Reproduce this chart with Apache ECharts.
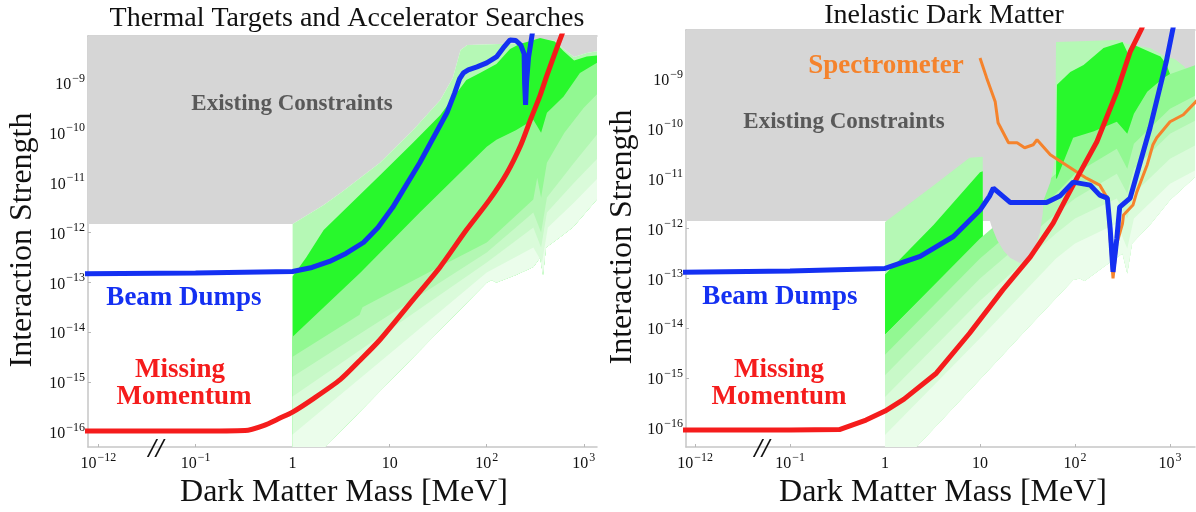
<!DOCTYPE html>
<html><head><meta charset="utf-8">
<script src="https://cdn.jsdelivr.net/npm/echarts@6/dist/echarts.min.js"></script>
<style>html,body{margin:0;padding:0;background:#fff}#c{width:1196px;height:512px}</style>
</head><body><div id="c"></div>
<script>
// x positions: log10(mass/MeV) for mass >= 0.1 MeV; the 10^-12 MeV tick sits at -2 (broken axis)
const xTickValues = [-2, -1, 0, 1, 2, 3];
const xTickBase = ['10', '10', '1', '10', '10', '10'];
const xTickExp = ['\u221212', '\u22121', '', '', '2', '3'];
// y values: log10(interaction strength)
const yTickValues = [-16, -15, -14, -13, -12, -11, -10, -9];

// ---------- Left panel: Thermal Targets and Accelerator Searches ----------
const leftBeamDump = [[-2.2,-12.83],[-1,-12.81],[0,-12.78],[0.2,-12.7],[0.38,-12.58],[0.55,-12.42],[0.73,-12.2],[0.88,-11.9],[1.03,-11.5],[1.17,-11.05],[1.31,-10.6],[1.45,-10.1],[1.59,-9.6],[1.67,-9.2],[1.72,-8.92],[1.76,-8.8],[1.81,-8.74],[1.9,-8.68],[2.0,-8.6],[2.1,-8.48],[2.17,-8.3],[2.24,-8.14],[2.3,-8.15],[2.35,-8.24],[2.385,-8.42],[2.39,-9.0],[2.40,-9.44],[2.41,-9.0],[2.43,-8.5],[2.47,-8.0],[2.5,-7.8]];
const leftMissingMomentum = [[-2.2,-15.98],[-1,-15.98],[-0.49,-15.97],[-0.3,-15.87],[-0.13,-15.72],[0,-15.6],[0.2,-15.35],[0.49,-14.95],[0.7,-14.55],[0.9,-14.15],[1.24,-13.35],[1.52,-12.69],[1.79,-11.95],[2.03,-11.34],[2.21,-10.8],[2.35,-10.25],[2.45,-9.74],[2.55,-9.25],[2.62,-8.85],[2.7,-8.42],[2.78,-8.0],[2.8,-7.9]];
const leftConstraintFloor = [[-2.3,-11.83],[0,-11.83]];
// thermal target band edges (top to bottom)
const leftEdge0 = [[0,-11.83],[0.32,-11.45],[0.5,-11.2],[0.9,-10.6],[1.24,-9.95],[1.52,-9.35],[1.65,-8.9],[1.73,-8.34],[1.8,-8.24],[2.45,-8.2],[2.5,-8.12],[2.7,-8.15],[2.79,-8.32],[2.9,-8.48],[3.03,-8.4],[3.15,-8.36]];
const leftEdge1 = [[0,-12.88],[0.14,-12.5],[0.32,-11.95],[0.9,-10.85],[1.24,-10.2],[1.52,-9.65],[1.79,-8.94],[1.93,-8.8],[2.1,-8.62],[2.24,-8.32],[2.34,-8.22],[2.45,-8.16],[2.55,-8.1],[2.7,-8.17],[2.79,-8.36],[2.9,-8.55],[3.03,-8.47],[3.15,-8.45]];
const leftEdge2 = [[0,-14.09],[0.7,-12.8],[1.31,-11.6],[2.0,-10.28],[2.1,-10.14],[2.3,-9.95],[2.48,-9.74],[2.56,-10.0],[2.62,-9.6],[2.79,-9.28],[2.96,-8.8],[3.15,-8.58]];
const leftEdge3 = [[0,-14.49],[0.69,-13.65],[0.72,-13.5],[1.4,-12.8],[2.0,-12.2],[2.48,-11.34],[2.52,-10.9],[2.56,-11.3],[2.62,-10.6],[2.8,-10.0],[3.0,-9.5],[3.15,-9.2]];
const leftEdge4 = [[0,-14.89],[1.0,-13.65],[2.0,-12.4],[2.48,-11.6],[2.56,-12.0],[2.62,-11.3],[2.9,-10.6],[3.15,-10.0]];
const leftEdge5 = [[0,-15.29],[1.0,-13.95],[2.0,-12.6],[2.48,-11.9],[2.56,-12.3],[2.62,-11.6],[2.9,-11.0],[3.15,-10.5]];
const leftEdge6 = [[0,-16.05],[1.0,-14.43],[2.0,-12.8],[2.48,-12.3],[2.57,-12.6],[2.63,-11.9],[2.9,-11.4],[3.15,-10.9]];
const leftEdge7 = [[0,-16.9],[0.31,-16.35],[1.0,-14.98],[1.5,-13.99],[2.0,-13.0],[2.05,-12.95],[2.1,-13.0],[2.3,-12.85],[2.48,-12.69],[2.55,-12.5],[2.58,-12.85],[2.61,-12.3],[2.75,-12.1],[2.89,-11.89],[3.15,-11.3]];

// ---------- Right panel: Inelastic Dark Matter ----------
const rightBeamDump = [[-2.2,-12.88],[-1,-12.85],[0,-12.8],[0.37,-12.56],[0.72,-12.16],[1.0,-11.63],[1.1,-11.35],[1.14,-11.19],[1.32,-11.48],[1.7,-11.48],[1.84,-11.35],[1.98,-11.07],[2.16,-11.13],[2.26,-11.33],[2.34,-11.39],[2.37,-12.0],[2.4,-12.87],[2.44,-12.2],[2.47,-11.57],[2.58,-11.39],[2.79,-9.98],[2.96,-8.66],[3.03,-8.0],[3.05,-7.8]];
const rightMissingMomentum = [[-2.2,-16.04],[-1,-16.04],[-0.48,-16.03],[-0.2,-15.84],[0,-15.66],[0.2,-15.42],[0.54,-14.9],[0.89,-14.1],[1.24,-13.23],[1.53,-12.57],[1.77,-11.89],[1.88,-11.49],[2.02,-10.99],[2.23,-10.26],[2.44,-9.26],[2.58,-8.46],[2.7,-8.0],[2.72,-7.9]];
const rightSpectrometer = [[1.0,-8.58],[1.07,-8.98],[1.16,-9.46],[1.19,-9.88],[1.3,-10.28],[1.39,-10.28],[1.47,-10.38],[1.56,-10.32],[1.6,-10.22],[1.74,-10.52],[1.95,-10.78],[2.12,-10.99],[2.26,-11.13],[2.34,-11.39],[2.36,-11.95],[2.4,-13.0],[2.44,-12.3],[2.5,-11.9],[2.51,-11.73],[2.61,-11.53],[2.65,-11.27],[2.76,-10.72],[2.82,-10.32],[2.86,-10.18],[3.0,-9.86],[3.14,-9.72],[3.27,-9.46],[3.3,-9.4]];
const rightConstraints = [[-2.3,-11.85],[1.7,-11.85],[1.8,-11.7],[3.4,-8.9],[3.4,-7.5],[-2.3,-7.5]];
const rightConstraintLobe = [[1.03,-10.0],[1.03,-11.43],[1.05,-11.5],[1.12,-11.95],[1.18,-12.23],[1.25,-12.45],[1.32,-12.59],[1.42,-12.69],[1.5,-12.62],[1.56,-12.49],[1.63,-12.09],[1.66,-11.7],[1.67,-11.43],[1.74,-11.07],[1.79,-10.58],[1.79,-10.0]];
const rightWedgeLight = [[0,-11.87],[0.5,-11.15],[0.89,-10.58],[1.03,-10.56],[1.03,-12.3],[0,-14.2]];
const rightWedgeBright = [[0,-12.92],[0.51,-11.93],[1.0,-10.87],[1.03,-10.85],[1.03,-12.17],[0,-14.13]];
const rightHighLight = [[1.67,-11.43],[1.74,-11.07],[1.79,-10.58],[1.8,-8.26],[2.45,-8.22],[2.55,-8.3],[2.79,-8.38],[2.95,-8.55],[3.05,-8.6],[3.15,-8.75],[3.22,-8.95],[3.3,-8.7],[3.3,-10.9],[1.67,-13.5]];
const rightHighBright = [[1.8,-11.0],[1.81,-9.12],[1.95,-8.86],[2.09,-8.72],[2.3,-8.38],[2.5,-8.26],[2.56,-8.5],[2.6,-8.3],[2.79,-8.46],[2.9,-8.55],[2.96,-8.7],[3.0,-8.9],[2.93,-8.98],[2.76,-9.26],[2.62,-9.7],[2.55,-10.1],[2.44,-9.86],[2.2,-10.05],[1.98,-10.18],[1.81,-10.99]];
const rightEdgeA = [[0,-14.13],[1.0,-12.2],[1.8,-10.9],[1.98,-10.15],[2.2,-10.0],[2.44,-9.82],[2.55,-10.05],[2.62,-9.65],[2.76,-9.22],[2.93,-8.95],[3.3,-8.7]];
const rightEdgeB = [[0,-14.53],[1.0,-12.6],[1.8,-11.3],[2.0,-10.9],[2.44,-10.4],[2.55,-10.8],[2.62,-10.3],[3.0,-9.6],[3.3,-9.3]];
const rightEdgeC = [[0,-14.94],[1.0,-13.0],[1.8,-11.7],[2.0,-11.4],[2.44,-10.9],[2.55,-11.3],[2.62,-10.8],[3.0,-10.1],[3.3,-9.8]];
const rightEdgeD = [[0,-15.38],[1.0,-13.45],[1.8,-12.1],[2.0,-11.8],[2.44,-11.4],[2.55,-11.8],[2.62,-11.3],[3.0,-10.6],[3.3,-10.3]];
const rightEdgeE = [[0,-16.14],[1.0,-14.2],[1.8,-12.6],[2.0,-12.3],[2.44,-11.9],[2.55,-12.4],[2.62,-11.8],[3.0,-11.1],[3.3,-10.8]];
const rightEdgeF = [[0,-16.9],[0.33,-16.38],[1.0,-15.02],[1.5,-14.0],[1.98,-13.03],[2.05,-13.0],[2.1,-13.05],[2.3,-12.77],[2.5,-12.5],[2.55,-12.9],[2.6,-12.3],[2.8,-11.9],[3.0,-11.43],[3.3,-10.9]];

const GRAY = '#d6d6d6', L1 = '#b5f8b5', BRIGHT = '#28f82c', MED = '#92f892',
      S1 = '#b3f7b3', S2 = '#c8f9c8', S3 = '#dafbda', S4 = '#ebfdeb';
const BLUE = '#1430f2', RED = '#f51c1c', ORANGE = '#f5832c';
const SERIF = 'Liberation Serif';

function band(upper, lower) { return upper.concat(lower.slice().reverse()); }
function poly(g, pts, color) {
  return {
    type: 'custom', xAxisIndex: g * 2, yAxisIndex: g, clip: true, silent: true,
    data: pts,
    renderItem: function (params, api) {
      if (params.dataIndex !== 0) return null;
      return { type: 'polygon', shape: { points: pts.map(function (d) { return api.coord(d); }) },
               style: { fill: color } };
    }
  };
}
function line(g, pts, color, width, smooth) {
  return { type: 'line', xAxisIndex: g * 2, yAxisIndex: g, data: pts, showSymbol: false, silent: true,
           smooth: smooth || false, lineStyle: { color: color, width: width }, z: 5 };
}

const axisLineStyle = { color: '#c6c6c6', width: 1.5 };
const rich = {
  b: { fontFamily: SERIF, fontSize: 16, color: '#111', padding: [8, 0, 4, 0] },
  s: { fontFamily: SERIF, fontSize: 12, color: '#111', padding: [0, 0, 9, 1] }
};
function xLabel(v) {
  for (let i = 0; i < xTickValues.length; i++) {
    if (Math.abs(v - xTickValues[i]) < 1e-6) {
      return xTickExp[i] ? '{b|' + xTickBase[i] + '}{s|' + xTickExp[i] + '}' : '{b|' + xTickBase[i] + '}';
    }
  }
  return '';
}
function yLabel(v) { return '{b|10}{s|\u2212' + Math.round(-v) + '}'; }

function xAxes(g, min, max) {
  return [{
    type: 'value', gridIndex: g, min: min, max: max,
    axisLine: { show: true, onZero: false, lineStyle: axisLineStyle },
    axisTick: { show: true, inside: true, length: 3, customValues: xTickValues, lineStyle: { color: '#b8b8b8' } },
    axisLabel: { customValues: xTickValues, formatter: xLabel, rich: rich, margin: 1 },
    splitLine: { show: false }
  }, {
    type: 'value', gridIndex: g, min: min, max: max, position: 'top',
    axisLine: { show: true, onZero: false, lineStyle: axisLineStyle },
    axisTick: { show: false }, axisLabel: { show: false }, splitLine: { show: false }
  }];
}
function yAxis(g, min, max) {
  return {
    type: 'value', gridIndex: g, min: min, max: max,
    axisLine: { show: true, onZero: false, lineStyle: axisLineStyle },
    axisTick: { show: true, inside: true, length: 3, customValues: yTickValues, lineStyle: { color: '#b8b8b8' } },
    axisLabel: { customValues: yTickValues, formatter: yLabel, rich: rich, margin: 3 },
    splitLine: { show: false }
  };
}

function txt(x, y, s, size, color, opts) {
  opts = opts || {};
  return { type: 'text', x: x, y: y, rotation: opts.rot || 0, z: 100, silent: true,
    style: { text: s, fill: color, font: (opts.style || '') + ' ' + (opts.weight || 'normal') + ' ' + size + 'px "' + SERIF + '"',
             textAlign: 'center', textVerticalAlign: 'middle' } };
}

const series = [
  // left panel
  poly(0, leftConstraintFloor.concat(leftEdge0.slice(1)).concat([[3.3,-8.36],[3.3,-7.5],[-2.3,-7.5]]), GRAY),
  poly(0, band(leftEdge0, leftEdge7), L1),
  poly(0, band(leftEdge1, leftEdge7), BRIGHT),
  poly(0, band(leftEdge2, leftEdge7), MED),
  poly(0, band(leftEdge3, leftEdge7), S1),
  poly(0, band(leftEdge4, leftEdge7), S2),
  poly(0, band(leftEdge5, leftEdge7), S3),
  poly(0, band(leftEdge6, leftEdge7), S4),
  line(0, leftMissingMomentum, RED, 5, 0.25),
  line(0, leftBeamDump, BLUE, 5, false),
  // right panel
  poly(1, rightConstraints, GRAY),
  poly(1, rightHighLight, L1),
  poly(1, rightWedgeLight, L1),
  poly(1, rightWedgeBright, BRIGHT),
  poly(1, band(rightEdgeA, rightEdgeF), MED),
  poly(1, band(rightEdgeB, rightEdgeF), S1),
  poly(1, band(rightEdgeC, rightEdgeF), S2),
  poly(1, band(rightEdgeD, rightEdgeF), S3),
  poly(1, band(rightEdgeE, rightEdgeF), S4),
  poly(1, rightConstraintLobe, GRAY),
  poly(1, rightHighBright, BRIGHT),
  line(1, rightSpectrometer, ORANGE, 3, false),
  line(1, rightMissingMomentum, RED, 5, false),
  line(1, rightBeamDump, BLUE, 5, false)
];

const chart = echarts.init(document.getElementById('c'), null, { renderer: 'canvas' });
chart.setOption({
  animation: false,
  backgroundColor: '#fff',
  grid: [
    { left: 88, top: 36, width: 509, height: 411, containLabel: false },
    { left: 686, top: 30, width: 509, height: 417, containLabel: false }
  ],
  xAxis: xAxes(0, -2.108, 3.136).concat(xAxes(1, -2.095, 3.263)),
  yAxis: [yAxis(0, -16.3, -8.06), yAxis(1, -16.38, -8.02)],
  series: series,
  graphic: [
    txt(347, 19, 'Thermal Targets and Accelerator Searches', 28, '#111'),
    txt(944, 16, 'Inelastic Dark Matter', 28, '#111'),
    txt(23, 240, 'Interaction Strength', 32, '#111', { rot: Math.PI / 2 }),
    txt(623, 237, 'Interaction Strength', 32, '#111', { rot: Math.PI / 2 }),
    txt(344, 493, 'Dark Matter Mass [MeV]', 32, '#111'),
    txt(943, 493, 'Dark Matter Mass [MeV]', 32, '#111'),
    txt(292, 104, 'Existing Constraints', 23, '#595959', { weight: 'bold' }),
    txt(844, 122, 'Existing Constraints', 23, '#595959', { weight: 'bold' }),
    txt(184, 298, 'Beam Dumps', 27, BLUE, { weight: 'bold' }),
    txt(780, 297, 'Beam Dumps', 27, BLUE, { weight: 'bold' }),
    txt(180, 370, 'Missing', 27, RED, { weight: 'bold' }),
    txt(184, 397, 'Momentum', 27, RED, { weight: 'bold' }),
    txt(779, 370, 'Missing', 27, RED, { weight: 'bold' }),
    txt(779, 397, 'Momentum', 27, RED, { weight: 'bold' }),
    txt(886, 66, 'Spectrometer', 27, ORANGE, { weight: 'bold' }),
    txt(156, 450, '//', 27, '#111', { weight: 'bold', style: 'italic' }),
    txt(762, 450, '//', 27, '#111', { weight: 'bold', style: 'italic' })
  ]
});
</script></body></html>
